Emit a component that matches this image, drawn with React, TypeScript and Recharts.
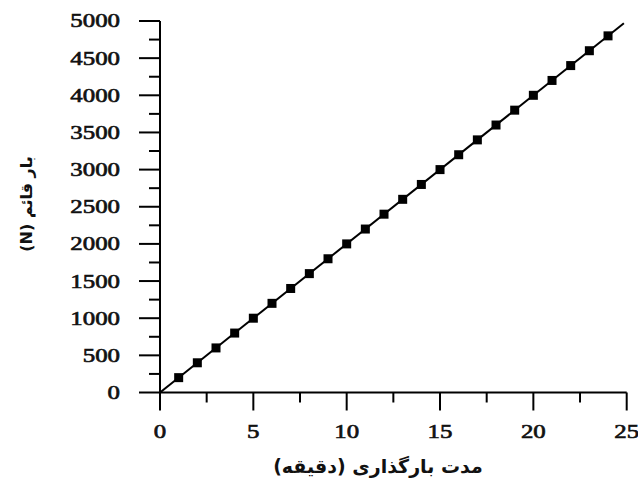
import React from 'react';
import {
  ComposedChart,
  Line,
  Scatter,
  XAxis,
  YAxis,
  Label
} from 'recharts';

// مدت بارگذاری (دقیقه) و بار قائم (N)
const minutes = [1, 2, 3, 4, 5, 6, 7, 8, 9, 10, 11, 12, 13, 14, 15, 16, 17, 18, 19, 20, 21, 22, 23, 24];
const loads = [200, 400, 600, 800, 1000, 1200, 1400, 1600, 1800, 2000, 2200, 2400, 2600, 2800, 3000, 3200, 3400, 3600, 3800, 4000, 4200, 4400, 4600, 4800];

// trend line end points
const fitMinutes = [0, 24.85];
const fitLoads = [0, 4970];

const xTicks = [0, 2.5, 5, 7.5, 10, 12.5, 15, 17.5, 20, 22.5, 25];
const yTicks = [0, 250, 500, 750, 1000, 1250, 1500, 1750, 2000, 2250, 2500, 2750, 3000, 3250, 3500, 3750, 4000, 4250, 4500, 4750, 5000];

const xTitle = 'مدت بارگذاری (دقیقه)';
const yTitle = 'بار قائم (N)';

const points = minutes.map((m, i) => ({ x: m, y: loads[i] }));
const fitLine = fitMinutes.map((m, i) => ({ x: m, y: fitLoads[i] }));

const numFont = '"Liberation Serif", "Times New Roman", serif';
const faFont = '"DejaVu Sans", sans-serif';
const stretch = 1.38; // the scanned figure is stretched sideways

const Num = ({ x, y, anchor, children }: any) => (
  <text
    x={x}
    y={y}
    textAnchor={anchor}
    transform={`translate(${x} 0) scale(${stretch} 1) translate(${-x} 0)`}
    fontFamily={numFont}
    fontSize={18}
    fill="#111"
    stroke="#111"
    strokeWidth={0.6}
  >
    {children}
  </text>
);

const XTick = ({ x, y, payload }: any) => {
  const v = payload.value;
  const major = v % 5 === 0;
  return (
    <g>
      <line x1={x} x2={x} y1={y} y2={y + (major ? 18 : 10)} stroke="#000" strokeWidth={2} />
      {major && <Num x={x} y={y + 45.5} anchor="middle">{v}</Num>}
    </g>
  );
};

const YTick = ({ x, y, payload }: any) => {
  const v = payload.value;
  const major = v % 500 === 0;
  return (
    <g>
      <line x1={x} x2={x - (major ? 21 : 11)} y1={y} y2={y} stroke="#000" strokeWidth={2} />
      {major && <Num x={x - 40} y={y + 6.5} anchor="end">{v}</Num>}
    </g>
  );
};

const Square = (props: any) => {
  const { cx, cy } = props;
  return <rect x={cx - 4.5} y={cy - 4.5} width={9} height={9} fill="#000" />;
};

export default function App() {
  return (
    <div style={{ position: 'absolute', left: 0, top: 0, width: 638, height: 479, background: '#fff' }}>
      <ComposedChart
        width={638}
        height={479}
        margin={{ top: 21, right: 11.3, left: 0, bottom: 0 }}
      >
        <XAxis
          type="number"
          dataKey="x"
          domain={[0, 25]}
          ticks={xTicks}
          interval={0}
          tickSize={0}
          tickMargin={0}
          tickLine={false}
          axisLine={{ stroke: '#000', strokeWidth: 2 }}
          tick={<XTick />}
          height={86.5}
          allowDataOverflow
        >
          <Label
            content={() => (
              <text
                x={378}
                y={473}
                textAnchor="middle"
                direction="rtl"
                fontFamily={faFont}
                fontWeight="bold"
                fontSize={19}
                fill="#111"
              >
                {xTitle}
              </text>
            )}
          />
        </XAxis>
        <YAxis
          type="number"
          dataKey="y"
          domain={[0, 5000]}
          ticks={yTicks}
          interval={0}
          tickSize={0}
          tickMargin={0}
          tickLine={false}
          axisLine={{ stroke: '#000', strokeWidth: 2 }}
          tick={<YTick />}
          width={160}
          allowDataOverflow
        >
          <Label
            content={() => (
              <text
                x={26}
                y={204}
                transform="rotate(-90 26 204)"
                textAnchor="middle"
                dominantBaseline="central"
                direction="rtl"
                fontFamily={faFont}
                fontWeight="bold"
                fontSize={16}
                fill="#111"
              >
                {yTitle}
              </text>
            )}
          />
        </YAxis>
        <Line
          data={fitLine}
          dataKey="y"
          type="linear"
          stroke="#000"
          strokeWidth={2}
          dot={false}
          activeDot={false}
          isAnimationActive={false}
        />
        <Scatter
          data={points}
          dataKey="y"
          fill="#000"
          shape={<Square />}
          isAnimationActive={false}
        />
      </ComposedChart>
    </div>
  );
}
